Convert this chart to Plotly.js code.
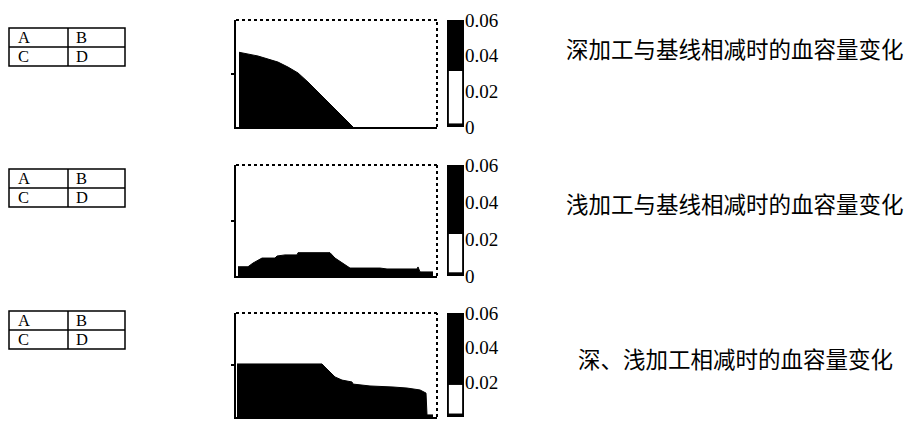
<!DOCTYPE html>
<html>
<head>
<meta charset="utf-8">
<script src="https://cdn.plot.ly/plotly-3.0.1.min.js"></script>
<style>html,body{margin:0;padding:0;background:#fff;}#chart{width:909px;height:422px;}</style>
</head>
<body>
<div id="chart"></div>
<script>
// ---- data ----
var tableCells = [["A", "B"], ["C", "D"]];
var titles = ["深加工与基线相减时的血容量变化", "浅加工与基线相减时的血容量变化", "深、浅加工相减时的血容量变化"];

var deepX = [3, 14, 22, 32, 42, 52, 62, 72, 82, 92, 102, 112, 117];
var deepY = [0.0419, 0.0409, 0.0398, 0.0381, 0.0364, 0.0336, 0.0303, 0.0252, 0.0196, 0.0135, 0.0079, 0.0028, 0];

var shallowX = [2, 12, 17, 22, 26, 39, 41, 49, 61, 62, 94, 99, 106, 112, 114, 144, 151, 181, 182, 184, 197];
var shallowY = [0.0050, 0.0050, 0.0070, 0.0086, 0.0097, 0.0097, 0.0108, 0.0114, 0.0114, 0.0126, 0.0126, 0.0097, 0.0072, 0.0050, 0.0043, 0.0043, 0.0038, 0.0038, 0.0049, 0.0022, 0.0022];

var diffX = [1, 86, 89, 94, 99, 106, 116, 117, 134, 157, 171, 184, 189, 190, 191, 197];
var diffY = [0.0306, 0.0306, 0.0288, 0.0260, 0.0231, 0.0213, 0.0202, 0.0190, 0.0179, 0.0173, 0.0167, 0.0156, 0.0138, 0.0138, 0.0012, 0.0012];

var barLevels = [0.0314, 0.0227, 0.0185];
var barMax = 0.06;
var barBase = 0.002;
var cbTickVals = [0, 0.02, 0.04, 0.06];
var cbTickText = ["0", "0.02", "0.04", "0.06"];

// ---- layout geometry (pixels) ----
var W = 909, H = 422;
function px(v) { return v / W; }
function py(v) { return 1 - v / H; }

var rows = [
  {top: 20, bottom: 127, tTop: 28, tMid: 47, tBot: 66, textY: 48},
  {top: 165, bottom: 276, tTop: 169, tMid: 188, tBot: 207, textY: 203},
  {top: 313, bottom: 417, tTop: 311, tMid: 330, tBot: 349, textY: 358}
];
var plotL = 236, plotR = 437, cbL = 447, cbR = 464;
var tL = 9, tM = 68, tR = 125;

var seriesX = [deepX, shallowX, diffX];
var seriesY = [deepY, shallowY, diffY];

var data = [];
var layout = {
  width: W, height: H,
  margin: {l: 0, r: 0, t: 0, b: 0},
  paper_bgcolor: "#fff", plot_bgcolor: "rgba(0,0,0,0)",
  showlegend: false,
  barmode: "overlay",
  shapes: [], annotations: []
};

var serif = "Liberation Serif, Times New Roman, serif";

rows.forEach(function (r, i) {
  var n = i + 1;
  var xa = "x" + (n === 1 ? "" : n), ya = "y" + (n === 1 ? "" : n);
  var cn = n + 3;
  var xc = "x" + cn, yc = "y" + cn;

  data.push({
    type: "scatter", mode: "lines",
    x: seriesX[i], y: seriesY[i],
    xaxis: xa, yaxis: ya,
    fill: "tozeroy", fillcolor: "#000",
    line: {color: "#000", width: 1},
    hoverinfo: "skip"
  });

  layout["xaxis" + (n === 1 ? "" : n)] = {
    domain: [px(plotL), px(plotR)], range: [0, 201],
    anchor: ya, showgrid: false, zeroline: false,
    showline: true, linecolor: "#000", linewidth: 2,
    showticklabels: false, ticks: "", fixedrange: true
  };
  layout["yaxis" + (n === 1 ? "" : n)] = {
    domain: [py(r.bottom), py(r.top)], range: [0, 0.06],
    anchor: xa, showgrid: false, zeroline: false,
    showline: true, linecolor: "#000", linewidth: 2,
    showticklabels: false, ticks: "outside", tickvals: [0.03],
    ticklen: 3, tickwidth: 2, tickcolor: "#000", fixedrange: true
  };

  // dotted top and right edges of the frame
  layout.shapes.push({type: "line", xref: xa + " domain", yref: ya + " domain",
    x0: 0, x1: 1, y0: 1, y1: 1, line: {color: "#000", width: 2, dash: "dot"}});
  layout.shapes.push({type: "line", xref: xa + " domain", yref: ya + " domain",
    x0: 1, x1: 1, y0: 0, y1: 1, line: {color: "#000", width: 2, dash: "dot"}});

  // level bar
  data.push({
    type: "bar", x: [0], y: [barMax], width: [1],
    xaxis: xc, yaxis: yc,
    marker: {color: "#000", line: {width: 0}}, hoverinfo: "skip"
  });
  data.push({
    type: "bar", x: [0], y: [barLevels[i] - barBase], base: [barBase], width: [0.78],
    xaxis: xc, yaxis: yc,
    marker: {color: "#fff", line: {width: 0}}, hoverinfo: "skip"
  });
  layout["xaxis" + cn] = {
    domain: [px(cbL), px(cbR)], range: [-0.5, 0.5], anchor: yc,
    showgrid: false, zeroline: false, showline: false,
    showticklabels: false, ticks: "", fixedrange: true
  };
  layout["yaxis" + cn] = {
    domain: [py(r.bottom), py(r.top)], range: [0, barMax], anchor: xc,
    side: "right", showgrid: false, zeroline: false, showline: false,
    tickvals: cbTickVals, ticktext: cbTickText, ticks: "",
    tickfont: {family: serif, size: 19, color: "#000"}, fixedrange: true
  };

  // 2x2 table
  layout.shapes.push({type: "rect", xref: "paper", yref: "paper",
    x0: px(tL), x1: px(tR), y0: py(r.tBot), y1: py(r.tTop),
    line: {color: "#000", width: 1.5}});
  layout.shapes.push({type: "line", xref: "paper", yref: "paper",
    x0: px(tL), x1: px(tR), y0: py(r.tMid), y1: py(r.tMid),
    line: {color: "#000", width: 1.5}});
  layout.shapes.push({type: "line", xref: "paper", yref: "paper",
    x0: px(tM), x1: px(tM), y0: py(r.tBot), y1: py(r.tTop),
    line: {color: "#000", width: 1.5}});
  var rowY = [(r.tTop + r.tMid) / 2, (r.tMid + r.tBot) / 2];
  var colX = [tL + 8, tM + 7];
  tableCells.forEach(function (rowCells, ri) {
    rowCells.forEach(function (cell, ci) {
      layout.annotations.push({xref: "paper", yref: "paper",
        x: px(colX[ci]), y: py(rowY[ri]), xanchor: "left", yanchor: "middle",
        text: cell, showarrow: false, borderpad: 0,
        font: {family: serif, size: 16.5, color: "#000"}});
    });
  });

  // caption
  layout.annotations.push({xref: "paper", yref: "paper",
    x: px(735), y: py(r.textY), xanchor: "center", yanchor: "middle",
    text: titles[i], showarrow: false,
    font: {family: "Noto Sans CJK SC", size: 22.5, color: "#000"}});
});

Plotly.newPlot("chart", data, layout, {displayModeBar: false, staticPlot: true});
</script>
</body>
</html>
